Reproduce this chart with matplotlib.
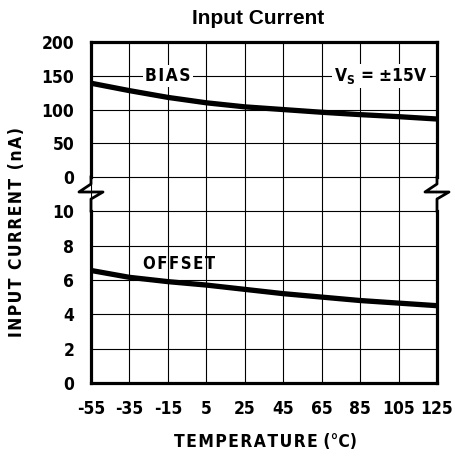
import matplotlib
matplotlib.use("Agg")
import matplotlib.pyplot as plt
from matplotlib.lines import Line2D

# Temperature (°C)
temp = [-55, -35, -15, 5, 25, 45, 65, 85, 105, 125]
# Input bias current (nA)
bias = [139, 128, 118, 110, 104, 100, 96, 92.5, 89.5, 86]
# Input offset current (nA)
offset = [6.55, 6.15, 5.9, 5.7, 5.45, 5.2, 5.0, 4.8, 4.65, 4.5]

xticks = [-55, -35, -15, 5, 25, 45, 65, 85, 105, 125]
top_ticks = [0, 50, 100, 150, 200]
bot_ticks = [0, 2, 4, 6, 8, 10]

plt.rcParams['font.family'] = ['DejaVu Sans']
plt.rcParams['font.stretch'] = 'condensed'
plt.rcParams['font.weight'] = 'bold'
plt.rcParams['axes.unicode_minus'] = False


def spaced(s):
    # datasheet lettering is a bit wider spaced
    return '\u200a'.join(s)


fig = plt.figure(figsize=(4.56, 4.57), dpi=100)
L, R = 91 / 456, 437 / 456
y_top, y_mid, y_bot = 1 - 42 / 457, 1 - 194 / 457, 1 - 383 / 457
ax1 = fig.add_axes([L, y_mid, R - L, y_top - y_mid])
ax2 = fig.add_axes([L, y_bot, R - L, y_mid - y_bot])

for ax in (ax1, ax2):
    ax.set_xlim(-55, 125)
    ax.set_xticks(xticks)
    ax.grid(True, color='black', linewidth=0.8)
    ax.tick_params(length=0, labelsize=12.5, pad=12)
    for s in ax.spines.values():
        s.set_linewidth(2.3)

ax1.set_ylim(-25, 200)
ax1.set_yticks(top_ticks)
ax1.tick_params(labelbottom=False)
ax1.spines['bottom'].set_visible(False)
ax1.spines['left'].set_bounds(0, 200)
ax1.spines['right'].set_bounds(0, 200)

ax2.set_ylim(0, 11)
ax2.set_yticks(bot_ticks)
ax2.spines['top'].set_visible(False)
ax2.spines['left'].set_bounds(0, 10)
ax2.spines['right'].set_bounds(0, 10)

ax1.plot(temp, bias, color='black', linewidth=3.8, solid_capstyle='butt')
ax2.plot(temp, offset, color='black', linewidth=3.8, solid_capstyle='butt')

box = dict(facecolor='white', edgecolor='none', pad=1.5)
ax1.text(-15, 150, spaced('BIAS'), ha='center', va='center', fontsize=12.5, bbox=box)
ax1.text(96, 150, r'V$_\mathregular{S}$ = ±15V', ha='center', va='center',
         fontsize=12.5, bbox=box)
ax2.text(-9, 6.9, spaced('OFFSET'), ha='center', va='center', fontsize=12)

# break marks on the left and right borders (figure pixel coords)
def px(x, y):
    return x / 456, 1 - y / 457

for x0 in (91, 437):
    pts = [(x0, 177), (x0, 184), (x0 - 12, 192), (x0 + 12, 192), (x0, 199), (x0, 211)]
    xs, ys = zip(*[px(*p) for p in pts])
    fig.add_artist(Line2D(xs, ys, color='black', linewidth=2.0, transform=fig.transFigure))

fig.text(258 / 456, 1 - 18 / 457, 'Input Current', ha='center', va='center',
         fontsize=15, family=['Liberation Sans', 'DejaVu Sans'], stretch='normal')
fig.text(266 / 456, 1 - 442 / 457, spaced('TEMPERATURE') + ' (°C)', ha='center', va='center',
         fontsize=12.5)
fig.text(17 / 456, 1 - 232 / 457, spaced('INPUT CURRENT (nA)'), ha='center', va='center',
         rotation=90, fontsize=12.5)

fig.savefig('out.png', dpi=100)
